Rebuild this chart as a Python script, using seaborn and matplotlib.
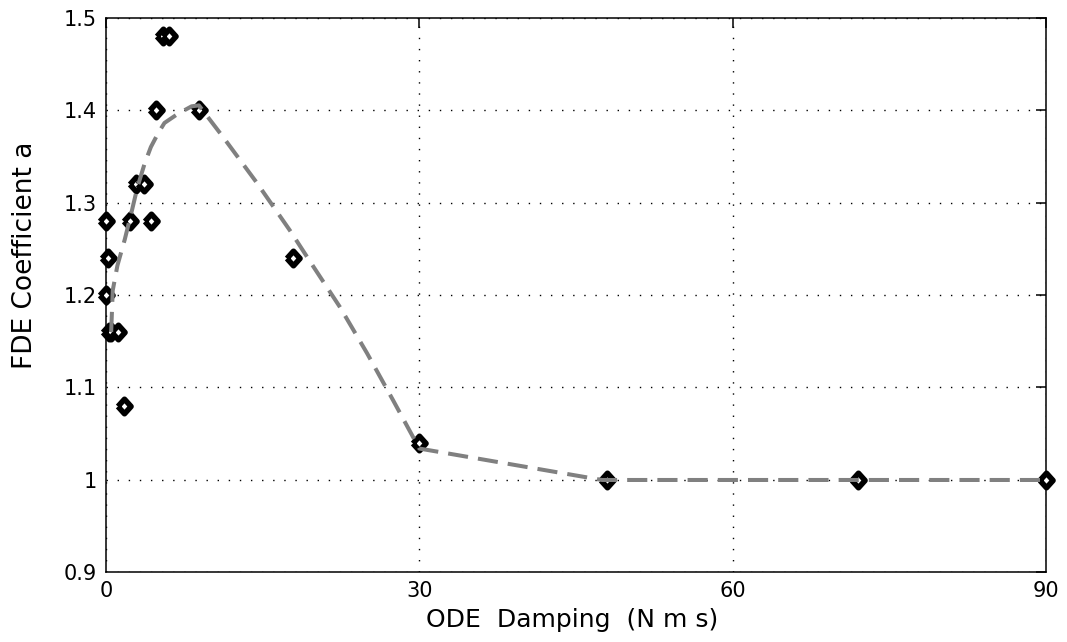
import numpy as np
import pandas as pd
import matplotlib
matplotlib.use("Agg")
import matplotlib.pyplot as plt
import seaborn as sns

# Identified FDE coefficient versus ODE damping
damping = [0.0, 0.2, 0.0, 0.3, 0.5, 1.2, 1.7, 2.3, 2.9, 3.6, 4.3, 4.8,
           5.5, 6.0, 8.9, 17.9, 30.0, 48.0, 72.0, 90.0]
coeff_a = [1.28, 1.24, 1.20, 1.16, 1.16, 1.16, 1.08, 1.28, 1.32, 1.32, 1.28, 1.40,
           1.48, 1.48, 1.40, 1.24, 1.04, 1.00, 1.00, 1.00]

# Fitted trend curve
fit_damping = [0.5, 0.65, 1.1, 1.8, 2.5, 3.0, 3.7, 4.3, 5.0, 5.6, 6.9, 8.2,
               8.9, 11.2, 14.4, 17.6, 19.9, 22.4, 25.0, 27.5, 30.0, 47.5, 72.0, 90.0]
fit_a = [1.160, 1.205, 1.232, 1.260, 1.292, 1.316, 1.342, 1.360, 1.375, 1.386,
         1.396, 1.404, 1.405, 1.371, 1.322, 1.270, 1.230, 1.187, 1.137, 1.086,
         1.034, 1.000, 1.000, 1.000]

x_ticks = [0, 30, 60, 90]
x_tick_labels = ["0", "30", "60", "90"]
y_ticks = [0.9, 1.0, 1.1, 1.2, 1.3, 1.4, 1.5]
y_tick_labels = ["0.9", "1", "1.1", "1.2", "1.3", "1.4", "1.5"]

pts = pd.DataFrame({"damping": damping, "a": coeff_a})
fit = pd.DataFrame({"damping": fit_damping, "a": fit_a})

sns.set_style("white")
plt.rcParams["font.family"] = ["DejaVu Sans"]

fig = plt.figure(figsize=(10.67, 6.42), dpi=100)
ax = fig.add_axes([0.0993, 0.1083, 0.8810, 0.8644])

# Diamond slightly taller than wide, heavy outline
diamond = [(-0.45, 0.0), (0.0, 0.5), (0.45, 0.0), (0.0, -0.5), (-0.45, 0.0)]
sns.scatterplot(data=pts, x="damping", y="a", marker=diamond, s=110,
                facecolor="white", edgecolor="black", linewidth=4.0,
                ax=ax, zorder=3)
ax.collections[-1].set_clip_on(False)

sns.lineplot(data=fit, x="damping", y="a", sort=False, color="#808080",
             linewidth=2.9, linestyle=(0, (5, 2.5)), ax=ax, zorder=4)

ax.set_xlim(0, 90)
ax.set_ylim(0.9, 1.5)
ax.set_xticks(x_ticks)
ax.set_xticklabels(x_tick_labels)
ax.set_yticks(y_ticks)
ax.set_yticklabels(y_tick_labels)

ax.grid(True, color="black", linestyle=(0, (1, 7)), linewidth=1.0)
ax.set_axisbelow(True)

for sp in ax.spines.values():
    sp.set_visible(True)
    sp.set_color("black")
    sp.set_linewidth(1.1)

ax.tick_params(direction="in", length=7, width=1.1, color="black",
               top=True, right=True, labelsize=15, pad=6.5, labelcolor="black")

ax.set_xlabel("ODE  Damping  (N m s)", fontsize=18, color="black")
ax.set_ylabel("FDE Coefficient a", fontsize=19, color="black")
ax.xaxis.set_label_coords(0.496, -0.064)
ax.yaxis.set_label_coords(-0.072, 0.572)

fig.savefig("out.png", dpi=100, facecolor="white")
